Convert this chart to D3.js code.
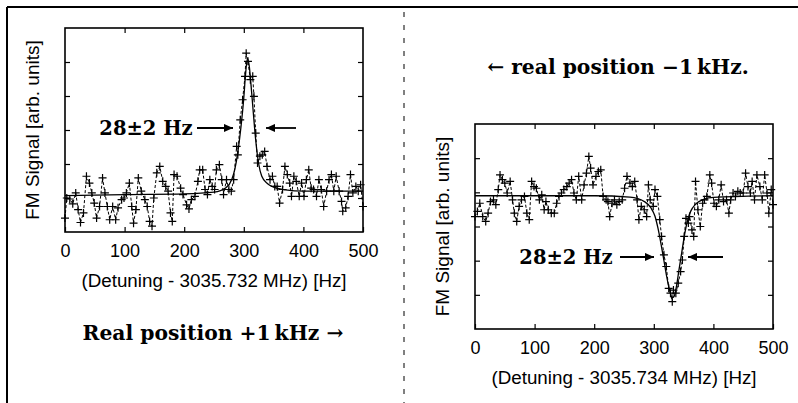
<!DOCTYPE html>
<html><head><meta charset="utf-8">
<script src="https://cdn.jsdelivr.net/npm/d3@7"></script>
<style>
html,body{margin:0;padding:0;background:#fff;}
svg{display:block;}
.tick text{font-family:"Liberation Sans",Arial,sans-serif;}
</style></head>
<body>
<svg id="c" width="798" height="403"></svg>
<script>
// ---------- data (left panel: +1 kHz, Detuning - 3035.732 MHz) ----------
const leftHz = [0,3,8,13,18,22,26,31,36,41,45,49,53,58,63,67,71,75,80,85,89,95,99,103,108,112,115,119,123,128,134,138,142,146,149,154,159,164,169,173,177,180,183,188,194,198,204,208,212,218,223,226,231,235,239,243,247,251,254,259,263,266,271,275,279,283,288,290,294,298,302,304,307,311,315,317,320,323,327,331,335,339,344,348,352,356,360,365,369,373,377,380,384,388,393,397,401,405,409,413,417,422,426,430,434,439,443,447,451,455,460,464,466,471,475,479,483,488,492,496,500];
const leftSignal = [0.41,1.0,0.97,0.83,1.15,0.66,0.28,0.56,1.64,1.44,1.15,0.85,0.41,0.75,1.59,1.15,0.75,0.36,0.75,0.36,0.71,0.95,1.0,1.15,1.44,0.75,0.26,0.66,1.59,1.2,0.95,0.75,0.31,0.17,1.0,1.74,1.93,1.49,1.34,1.2,0.56,0.31,1.69,1.64,1.29,1.1,0.8,0.68,0.95,1.05,1.49,1.83,1.83,1.25,1.1,1.54,1.34,1.25,1.83,1.98,1.54,1.1,1.54,1.25,1.2,1.54,2.52,2.27,3.3,3.89,4.58,5.26,5.02,4.48,4.58,3.99,2.91,2.03,2.23,2.27,2.37,1.93,1.54,1.64,1.34,1.34,0.85,1.25,1.93,1.69,1.44,1.05,1.64,1.49,1.05,1.44,1.05,1.54,1.83,1.29,1.25,1.05,1.54,1.25,0.75,1.2,1.54,1.69,1.2,1.64,1.2,0.9,0.61,0.71,1.05,1.69,1.15,1.34,1.2,1.39,0.75];
const leftFitHz = [0,100,200,250,270,280,285,290,295,300,303,306,309,312,316,320,325,330,340,350,370,400,500];
const leftFit = [1.07,1.1,1.12,1.17,1.3,1.55,1.85,2.35,3.05,3.95,4.65,5.1,4.9,4.35,3.5,2.7,2.0,1.65,1.42,1.32,1.24,1.2,1.2];

// ---------- data (right panel: -1 kHz, Detuning - 3035.734 MHz) ----------
const rightHz = [0,4,8,13,18,22,26,31,35,39,42,46,50,54,59,63,66,70,74,78,83,87,91,95,99,103,108,112,116,119,123,128,133,137,141,145,149,154,158,162,166,170,174,179,183,187,191,194,198,203,207,211,215,220,223,226,230,234,238,242,247,251,255,260,264,268,272,275,279,284,288,291,294,299,302,306,310,313,317,321,325,328,331,333,337,341,345,348,351,354,358,360,364,367,370,374,378,382,385,389,394,397,401,405,409,413,417,422,426,429,433,437,441,445,450,454,458,462,465,469,473,478,482,486,490,493,497,500];
const rightSignal = [3.29,3.44,3.68,3.29,3.15,3.39,3.73,3.78,3.64,4.08,4.51,4.37,4.27,3.98,4.32,3.78,3.39,3.15,3.59,3.78,3.88,3.39,3.2,4.32,4.17,4.12,3.78,3.93,3.49,3.73,3.49,3.39,3.39,3.68,3.88,3.98,4.08,4.17,4.27,4.37,3.98,3.78,4.47,3.78,4.22,4.56,5.05,4.71,4.22,4.47,4.61,4.66,3.88,3.78,3.73,3.29,3.68,3.78,3.64,3.73,3.78,4.12,4.47,4.27,4.17,4.32,3.78,3.2,3.59,3.49,3.29,4.22,3.78,3.59,4.08,3.88,3.2,2.71,2.17,1.83,1.19,1.05,0.8,1.14,1.05,1.34,1.68,2.02,2.71,3.24,3.1,3.29,2.9,2.71,4.32,3.49,3.0,3.68,3.78,3.88,4.51,4.27,3.68,3.59,3.78,4.22,3.73,3.78,3.39,3.78,3.98,3.88,4.03,3.98,3.98,4.56,4.17,3.98,4.32,3.78,4.51,4.17,3.78,4.51,3.98,3.39,4.08,3.64];
const rightFitHz = [0,150,200,260,285,295,302,307,312,317,322,327,331,334,338,342,347,352,357,362,370,385,400,500];
const rightFit = [3.9,3.9,3.9,3.86,3.72,3.55,3.3,2.95,2.5,2.0,1.5,1.1,0.92,0.95,1.25,1.7,2.25,2.8,3.2,3.45,3.65,3.8,3.85,3.9];

const xTicks = [0,100,200,300,400,500];
const yTicks = [1,2,3,4,5];
const yLabel = "FM Signal [arb. units]";

const panels = [
  {hz:leftHz, sig:leftSignal, fitHz:leftFitHz, fit:leftFit, xLabel:"(Detuning - 3035.732 MHz) [Hz]",
   box:{l:65,r:363,t:28,b:232}, width:"28\u00b12 Hz",
   ann:{tx:146, ty:128, a1:[197,233], a2:[296,266]}},
  {hz:rightHz, sig:rightSignal, fitHz:rightFitHz, fit:rightFit, xLabel:"(Detuning - 3035.734 MHz) [Hz]",
   box:{l:475,r:773,t:124,b:329}, width:"28\u00b12 Hz",
   ann:{tx:566, ty:257, a1:[620,654], a2:[723,688]}}
];

const svg = d3.select("#c");
svg.append("defs").append("marker").attr("id","ah").attr("viewBox","0 0 10 10")
  .attr("refX",10).attr("refY",5).attr("markerWidth",14).attr("markerHeight",9)
  .attr("markerUnits","userSpaceOnUse").attr("orient","auto")
  .append("path").attr("d","M0,0.5 L10,5 L0,9.5 Z").attr("fill","#000");

// outer frame + divider
svg.append("line").attr("x1",7).attr("x2",798).attr("y1",7).attr("y2",7).attr("stroke","#000").attr("stroke-width",2);
svg.append("line").attr("x1",7).attr("x2",7).attr("y1",7).attr("y2",403).attr("stroke","#000").attr("stroke-width",2);
svg.append("line").attr("x1",404).attr("x2",404).attr("y1",12).attr("y2",403).attr("stroke","#000")
  .attr("stroke-width",1).attr("stroke-dasharray","5,8");

panels.forEach(p => {
  const b = p.box;
  const x = d3.scaleLinear().domain([0,500]).range([b.l,b.r]);
  const y = d3.scaleLinear().domain([0,6]).range([b.b,b.t]);
  const g = svg.append("g");

  // ticks (inward on all four sides)
  const ax = g.append("g").attr("transform",`translate(0,${b.b})`)
    .call(d3.axisBottom(x).tickValues(xTicks).tickSize(-5).tickPadding(12).tickFormat(d3.format("d")));
  ax.select(".domain").remove();
  ax.selectAll("text").attr("font-size",18).attr("fill","#000");
  ax.selectAll("line").attr("stroke-width",1.2);
  const axT = g.append("g").attr("transform",`translate(0,${b.t})`)
    .call(d3.axisTop(x).tickValues(xTicks.slice(1,-1)).tickSize(-5).tickFormat(""));
  axT.select(".domain").remove(); axT.selectAll("line").attr("stroke-width",1.2);
  const ayL = g.append("g").attr("transform",`translate(${b.l},0)`)
    .call(d3.axisLeft(y).tickValues(yTicks).tickSize(-5).tickFormat(""));
  ayL.select(".domain").remove(); ayL.selectAll("line").attr("stroke-width",1.2);
  const ayR = g.append("g").attr("transform",`translate(${b.r},0)`)
    .call(d3.axisRight(y).tickValues(yTicks).tickSize(-5).tickFormat(""));
  ayR.select(".domain").remove(); ayR.selectAll("line").attr("stroke-width",1.2);

  // frame
  g.append("rect").attr("x",b.l).attr("y",b.t).attr("width",b.r-b.l).attr("height",b.b-b.t)
    .attr("fill","none").attr("stroke","#000").attr("stroke-width",1.6);

  // fit (solid)
  const fitPts = p.fitHz.map((h,i)=>[h,p.fit[i]]);
  g.append("path").datum(fitPts).attr("fill","none").attr("stroke","#000").attr("stroke-width",1.3)
    .attr("d", d3.line().x(d=>x(d[0])).y(d=>y(d[1])).curve(d3.curveMonotoneX));

  // data (dashed line + crosses)
  const pts = p.hz.map((h,i)=>[h,p.sig[i]]);
  g.append("path").datum(pts).attr("fill","none").attr("stroke","#000").attr("stroke-width",1)
    .attr("stroke-dasharray","3,2")
    .attr("d", d3.line().x(d=>x(d[0])).y(d=>y(d[1])));
  g.append("g").selectAll("path.pt").data(pts).join("path").attr("class","pt")
    .attr("d", d => { const cx=x(d[0]), cy=y(d[1]); return `M${cx-4},${cy}H${cx+4}M${cx},${cy-4}V${cy+4}`; })
    .attr("stroke","#000").attr("stroke-width",1.2).attr("fill","none");

  // axis titles
  g.append("text").attr("x",(b.l+b.r)/2).attr("y",b.b+55)
    .attr("text-anchor","middle").attr("font-family","Liberation Sans, Arial, sans-serif")
    .attr("font-size",18.8).text(p.xLabel);
  g.append("text").attr("transform",`translate(${b.l-26},${(b.t+b.b)/2}) rotate(-90)`)
    .attr("text-anchor","middle").attr("font-family","Liberation Sans, Arial, sans-serif")
    .attr("font-size",19).text(yLabel);

  // width annotation
  const a = p.ann;
  g.append("text").attr("x",a.tx).attr("y",a.ty).attr("dy","0.36em").attr("text-anchor","middle")
    .attr("font-family","DejaVu Serif, serif").attr("font-weight","bold").attr("font-size",19.5)
    .text(p.width);
  g.append("line").attr("x1",a.a1[0]).attr("x2",a.a1[1]).attr("y1",a.ty).attr("y2",a.ty)
    .attr("stroke","#000").attr("stroke-width",1.8).attr("marker-end","url(#ah)");
  g.append("line").attr("x1",a.a2[0]).attr("x2",a.a2[1]).attr("y1",a.ty).attr("y2",a.ty)
    .attr("stroke","#000").attr("stroke-width",1.8).attr("marker-end","url(#ah)");
});

// captions
svg.append("text").attr("x",213).attr("y",333).attr("dy","0.35em").attr("text-anchor","middle")
  .attr("font-family","DejaVu Serif, serif").attr("font-weight","bold").attr("font-size",20.3)
  .text("Real position +1\u2009kHz \u2192");
svg.append("text").attr("x",618).attr("y",67).attr("dy","0.35em").attr("text-anchor","middle")
  .attr("font-family","DejaVu Serif, serif").attr("font-weight","bold").attr("font-size",20.3)
  .text("\u2190 real position \u22121\u2009kHz.");
</script>
</body></html>
